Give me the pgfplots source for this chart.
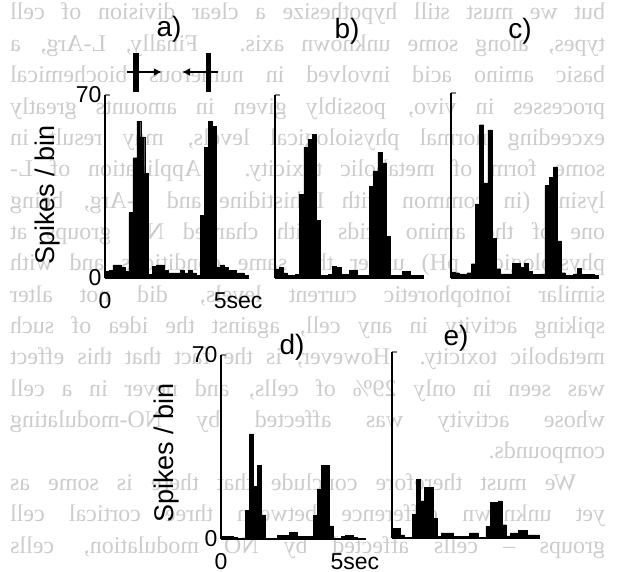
\documentclass[border=0pt]{standalone}
\usepackage{fontspec}
\setmainfont{Liberation Serif}
\newfontfamily\arial{Liberation Sans}
\usepackage{graphicx}
\usepackage{pgfplots}
\pgfplotsset{compat=1.18}
\usetikzlibrary{arrows.meta}
\definecolor{bleed}{RGB}{204,204,204}

% mirrored show-through line from the back of the page
\newcommand{\bl}[3][s]{\node[anchor=base west, inner sep=0pt, text=bleed, font=\fontsize{24}{26}\selectfont]
  at (10pt,#2) {\reflectbox{\makebox[595pt][#1]{#3}}};}

\pgfplotsset{psth/.style={
  scale only axis, anchor=south west,
  xmin=0, xmax=36, ymin=0, ymax=70,
  axis lines=left,
  axis line style={-, line width=1.8pt},
  ytick={0,70}, xtick={0,29},
  tick align=inside, major tick length=5pt,
  ytick style={line width=1.8pt},
  xtick style={draw=none},
  tick label style={font=\arial\fontsize{23}{25}\selectfont},
  xticklabel style={yshift=-11pt},
  label style={font=\arial\fontsize{27}{29}\selectfont},
  xticklabels={}, yticklabels={},
  clip=false},
  labelled/.style={xticklabels={0,5\rlap{sec}}, yticklabels={0,70},
  ylabel={Spikes / bin}},
  hist/.style={const plot, fill=black, draw=black, line width=0.4pt}}

\begin{document}
\begin{tikzpicture}
\useasboundingbox (0,0) rectangle (619pt,571pt);

% show-through text
\bl{551pt}{but we must still hypothesize a clear division of cell}
\bl{519.6pt}{types, along some unknown axis. Finally, L-Arg, a}
\bl{488.3pt}{basic amino acid involved in numerous biochemical}
\bl{456.9pt}{processes in vivo, possibly given in amounts greatly}
\bl{425.6pt}{exceeding normal physiological levels, may result in}
\bl{394.3pt}{some form of metabolic toxicity. Application of L-}
\bl{362.9pt}{lysine (in common with L-histidine and L-Arg, being}
\bl{331.6pt}{one of the amino acids with charged NH groups at}
\bl{300.2pt}{physiological pH) under the same conditions and with}
\bl{268.9pt}{similar iontophoretic current levels, did not alter}
\bl{237.5pt}{spiking activity in any cell, against the idea of such}
\bl{206.2pt}{metabolic toxicity. However, is the fact that this effect}
\bl{174.8pt}{was seen in only 29\% of cells, and never in a cell}
\bl{143.5pt}{whose activity was affected by NO-modulating}
\bl[l]{112.1pt}{compounds.}
\bl{80.8pt}{\hspace{1.2em}We must therefore conclude that there is some as}
\bl{49.4pt}{yet unknown difference between three cortical cell}
\bl{18pt}{groups -- cells affected by NO modulation, cells}

% a)
\begin{axis}[psth, labelled, at={(105pt,293pt)}, width=143pt, height=183pt,
  ylabel style={at={(axis description cs:-0.405,0.454)}, anchor=center}]
\addplot[hist] coordinates {
(0,2.5)(1,3)(2,5)(3,5)(4,4)(5,2.5)(6,25)(7,46)(8,60)(9,54)(10,40)(11,1.5)
(12,4.5)(13,5)(14,5)(15,3)(16,2)(17,2)(18,2)(19,3)(20,2)(21,3)(22,2)(23,1)
(24,24)(25,50)(26,60)(27,58)(28,4)(29,5)(30,4)(31,3)(32,3)(33,2)(34,2)(35,1)(36,1)
} \closedcycle;
\draw[line width=5.5pt] (axis cs:7.8,71) -- (axis cs:7.8,86);
\draw[line width=1.5pt, -{Latex[length=8pt,width=8pt]}] (axis cs:5.5,78.8) -- (axis cs:14.3,78.8);
\draw[line width=5.5pt] (axis cs:26.1,71) -- (axis cs:26.1,86);
\draw[line width=1.5pt, -{Latex[length=8pt,width=8pt]}] (axis cs:28.4,78.8) -- (axis cs:19.4,78.8);
\end{axis}

% b)
\begin{axis}[psth, at={(275pt,293pt)}, width=148pt, height=183pt]
\addplot[hist] coordinates {
(0,3.5)(1,4)(2,2)(3,1)(4,1)(5,1.5)(6,32)(7,50)(8,53)(9,55)(10,22)(11,1)
(12,1)(13,1.5)(14,4.5)(15,4)(16,1.5)(17,1.5)(18,3)(19,3)(20,1)(21,1)(22,1)(23,35)
(24,41)(25,48)(26,44)(27,16)(28,1)(29,1)(30,1)(31,2.5)(32,2.5)(33,1)(34,1)(35,1)(36,1)
} \closedcycle;
\end{axis}

% c)
\begin{axis}[psth, at={(451pt,293pt)}, width=147pt, height=185pt]
\addplot[hist] coordinates {
(0,2.3)(1,2)(2,1.6)(3,1.6)(4,2)(5,5.4)(6,28)(7,58)(8,36)(9,56)(10,15)(11,3.5)
(12,1.6)(13,1.6)(14,1.6)(15,5.5)(16,5.5)(17,4)(18,5.5)(19,2.5)(20,1.5)(21,1.5)(22,1.6)(23,35)
(24,38)(25,42)(26,14)(27,2)(28,1)(29,1)(30,1.6)(31,3.6)(32,1.5)(33,1.5)(34,1.5)(35,1)(36,1)
} \closedcycle;
\end{axis}

% d)
\begin{axis}[psth, labelled, at={(221pt,32pt)}, width=144pt, height=184pt,
  ylabel style={at={(axis description cs:-0.375,0.467)}, anchor=center}]
\addplot[hist] coordinates {
(0,1)(1,1)(2,1)(3,0.5)(4,0.3)(5,0.3)(6,11)(7,40)(8,20)(9,28)(10,9)(11,0.3)
(12,0.3)(13,0.3)(14,1.3)(15,1.3)(16,1.3)(17,2.5)(18,2.5)(19,1)(20,1)(21,1)(22,1)(23,9)
(24,19)(25,28)(26,28)(27,5)(28,0.3)(29,0.3)(30,1)(31,1.4)(32,1.4)(33,0.5)(34,0.3)(35,0.3)(36,0.3)
} \closedcycle;
\end{axis}

% e)
\begin{axis}[psth, at={(392pt,33pt)}, width=147pt, height=186pt]
\addplot[hist] coordinates {
(0,3.75)(1,3.75)(2,1.2)(3,0.3)(4,0.3)(5,9)(6,22)(7,14)(8,19)(9,19)(10,7.5)(11,0.5)
(12,1.9)(13,1.9)(14,1.9)(15,0.6)(16,0.6)(17,0.6)(18,0.6)(19,1.9)(20,1.9)(21,0.3)(22,0.3)(23,4.4)
(24,13.5)(25,13.5)(26,14)(27,5)(28,0.8)(29,1.9)(30,1.9)(31,2.75)(32,2.75)(33,1.2)(34,1.2)(35,1.2)(36,1.2)
} \closedcycle;
\end{axis}

% panel letters
\begin{scope}[every node/.style={font=\arial\fontsize{28}{30}\selectfont}]
\node at (169pt,542pt) {a)};
\node at (347pt,540pt) {b)};
\node at (520pt,540pt) {c)};
\node at (292pt,224pt) {d)};
\node at (456pt,233pt) {e)};
\end{scope}
\end{tikzpicture}
\end{document}
